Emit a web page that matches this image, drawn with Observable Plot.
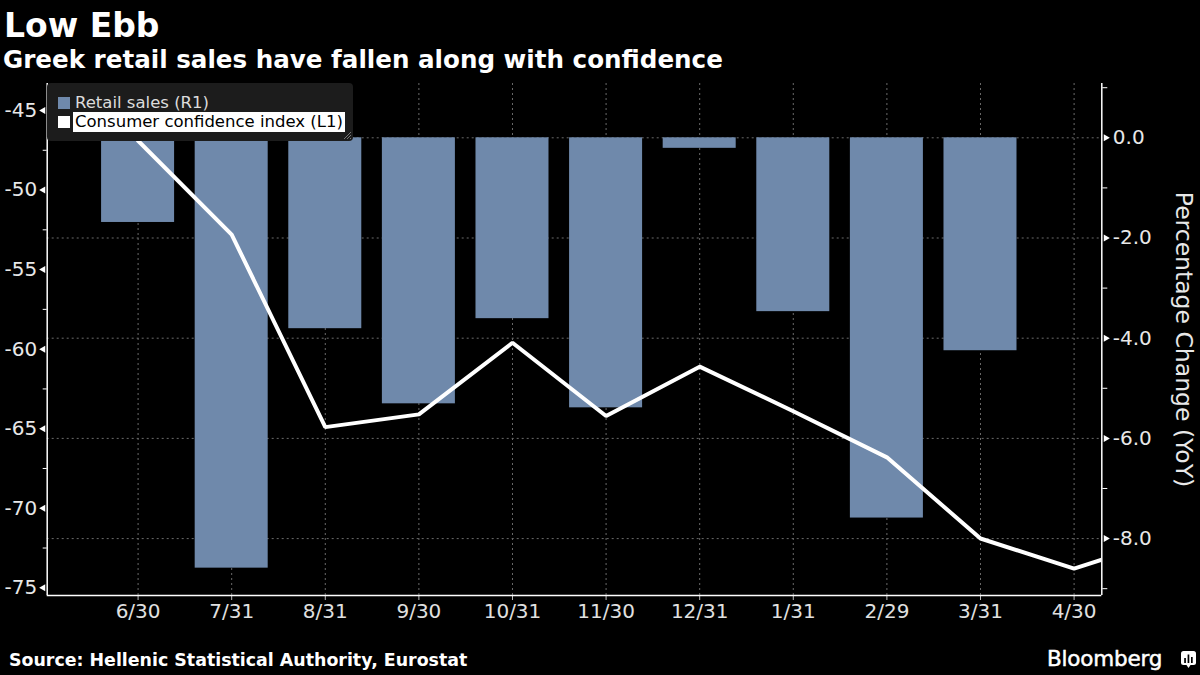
<!DOCTYPE html>
<html>
<head>
<meta charset="utf-8">
<script src="https://cdn.jsdelivr.net/npm/d3@7"></script>
<script src="https://cdn.jsdelivr.net/npm/@observablehq/plot@0.6"></script>
<style>
html, body { margin: 0; padding: 0; background: #000; }
#page { position: relative; width: 1200px; height: 675px; background: #000; overflow: hidden; font-family: "DejaVu Sans", sans-serif; }
#page > svg.chart { position: absolute; left: 0; top: 0; }
.txt { position: absolute; line-height: 1; white-space: nowrap; color: #fff; }
#title { left: 4px; top: 9px; font-size: 33px; font-weight: bold; }
#subtitle { left: 3px; top: 48px; font-size: 24.6px; font-weight: bold; }
#source { left: 9px; top: 652px; font-size: 17.4px; font-weight: bold; }
#brand { left: 1047px; top: 648px; font-size: 21.5px; font-weight: normal; -webkit-text-stroke: 0.5px #fff; letter-spacing: -0.2px; }
#icon { position: absolute; left: 1181px; top: 651px; }
#legend { position: absolute; left: 47px; top: 83px; width: 306px; height: 58px; background: #1c1c1c; border-radius: 4px; z-index: 5; }
#handle { position: absolute; right: 2px; bottom: 2px; }
.sw { position: absolute; width: 12px; height: 12px; }
.lt { position: absolute; font-size: 16.5px; line-height: 20px; white-space: nowrap; }
</style>
</head>
<body>
<div id="page">
  <div id="title" class="txt">Low Ebb</div>
  <div id="subtitle" class="txt">Greek retail sales have fallen along with confidence</div>
  <div id="legend">
    <div class="sw" style="left:11px;top:14px;background:#6f89ab"></div>
    <div class="lt" style="left:26px;top:10px;color:#dcdcdc;padding:0 2px">Retail sales (R1)</div>
    <div class="sw" style="left:11px;top:33px;background:#fff"></div>
    <div class="lt" style="left:26px;top:29px;color:#000;background:#fff;padding:0 2px">Consumer confidence index (L1)</div>
    <svg id="handle" width="8" height="8" viewBox="0 0 8 8">
      <path d="M1 8 L8 1 M4 8 L8 4 M7 8 L8 7" stroke="#777" stroke-width="1"/>
    </svg>
  </div>
  <div id="source" class="txt">Source: Hellenic Statistical Authority, Eurostat</div>
  <div id="brand" class="txt">Bloomberg</div>
  <svg id="icon" width="15" height="18" viewBox="0 0 15 18">
    <rect x="0" y="0" width="15" height="14" rx="2.5" fill="#fff"/>
    <path d="M5.5 14 L7.5 17 L9.5 14 Z" fill="#fff"/>
    <rect x="3.2" y="7" width="1.7" height="5" fill="#000"/>
    <rect x="6.6" y="3.5" width="1.7" height="8.5" fill="#000"/>
    <rect x="10" y="6" width="1.7" height="6" fill="#000"/>
  </svg>
</div>
<script>
// ---- data ----
const months = ["6/30","7/31","8/31","9/30","10/31","11/30","12/31","1/31","2/29","3/31","4/30"];
const retailMonths = ["6/30","7/31","8/31","9/30","10/31","11/30","12/31","1/31","2/29","3/31"];
const retailSales = [-1.69,-8.59,-3.81,-5.31,-3.61,-5.39,-0.21,-3.47,-7.59,-4.25];
const confidenceMonths = ["6/30","7/31","8/31","9/30","10/31","11/30","12/31","1/31","2/29","3/31","4/30","5/31"];
const confidence = [-46.9,-52.8,-64.9,-64.1,-59.6,-64.2,-61.1,-63.9,-66.8,-71.9,-73.8,-71.9];
const leftTicks = [-45,-50,-55,-60,-65,-70,-75];
const leftMinorTicks = [-47.5,-52.5,-57.5,-62.5,-67.5,-72.5];
const rightTicks = [0,-2,-4,-6,-8];
const rightMinorTicks = [1,-1,-3,-5,-7,-9];

// ---- layout / scales ----
const xDomain = [-0.971, 10.296];
const yLeft = [-75.484, -43.303];
const yRight = [-9.136, 1.084];
const pos = m => confidenceMonths.indexOf(m);
const retail = retailMonths.map((m, k) => ({i: pos(m), v: retailSales[k]}));
const conf = confidenceMonths.map((m, k) => ({i: pos(m), v: confidence[k]}));
const monthIdx = months.map(pos);

const frame = {width: 1200, height: 675, marginTop: 83, marginRight: 98.7, marginBottom: 80, marginLeft: 46.7};
const style = {background: "transparent", color: "#e8e8e8", fontFamily: "DejaVu Sans, sans-serif", fontSize: "20px", overflow: "visible"};
const grid = {stroke: "#6a6a6a", strokeDasharray: "2,3", strokeWidth: 1};
const barColor = "#6f89ab";

const plotR = Plot.plot({
  ...frame, style,
  x: {type: "linear", domain: xDomain, axis: null},
  y: {type: "linear", domain: yRight, axis: null},
  marks: [
    Plot.ruleX(monthIdx, grid),
    Plot.ruleY(rightTicks, grid),
    Plot.rectY(retail, {x1: d => d.i - 0.39, x2: d => d.i + 0.39, y1: 0, y2: "v", fill: barColor}),
    Plot.axisY(rightTicks, {anchor: "right", tickSize: 0, tickPadding: 11, tickFormat: d => d.toFixed(1), fill: "#e8e8e8", label: null}),
    Plot.axisY(rightMinorTicks, {anchor: "right", tickSize: 5, tickFormat: () => "", stroke: "#fff", label: null}),
    Plot.dot(rightTicks, {y: d => d, frameAnchor: "right", symbol: "triangle", rotate: 90, r: 2.6, fill: "#fff", stroke: null, dx: 4}),
    Plot.text(["Percentage Change (YoY)"], {text: d => d, frameAnchor: "right", textAnchor: "middle", rotate: 90, dx: 82, fontSize: 23.5, fill: "#e8e8e8"}),
    Plot.ruleX([xDomain[1]], {stroke: "#fff", strokeWidth: 1.5})
  ]
});

const plotL = Plot.plot({
  ...frame, style,
  x: {type: "linear", domain: xDomain, axis: null},
  y: {type: "linear", domain: yLeft, axis: null},
  marks: [
    Plot.axisY(leftTicks, {anchor: "left", tickSize: 0, tickPadding: 10, tickFormat: d => String(d), fill: "#e8e8e8", label: null}),
    Plot.axisY(leftMinorTicks, {anchor: "left", tickSize: 4, tickFormat: () => "", stroke: "#fff", label: null}),
    Plot.dot(leftTicks, {y: d => d, frameAnchor: "left", symbol: "triangle", rotate: -90, r: 2.6, fill: "#fff", stroke: null, dx: -4}),
    Plot.axisX(monthIdx, {anchor: "bottom", tickSize: 5, tickPadding: 3, tickFormat: i => confidenceMonths[i], stroke: "#bbb", fill: "#e0e0e0", label: null}),
    Plot.line(conf, {x: "i", y: "v", stroke: "#fff", strokeWidth: 4, strokeLinejoin: "miter", clip: true}),
    Plot.ruleX([xDomain[0]], {stroke: "#fff", strokeWidth: 1.5}),
    Plot.ruleY([yLeft[0]], {stroke: "#fff", strokeWidth: 1.5})
  ]
});

plotR.classList.add("chart");
plotL.classList.add("chart");
const page = document.getElementById("page");
const legend = document.getElementById("legend");
page.insertBefore(plotR, legend);
page.insertBefore(plotL, legend);
</script>
</body>
</html>
